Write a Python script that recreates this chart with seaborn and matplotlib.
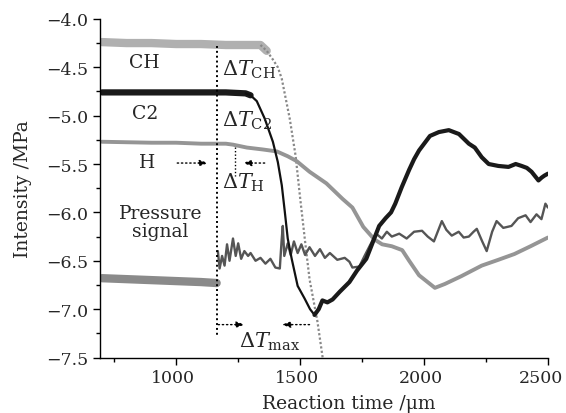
import numpy as np
import pandas as pd
import matplotlib
matplotlib.use("Agg")
import matplotlib.pyplot as plt
import matplotlib.transforms as mtransforms
from matplotlib.ticker import MultipleLocator
import seaborn as sns

# ---------------- data ----------------
ch_x = [700, 800, 900, 1000, 1100, 1200, 1300, 1340, 1365, 1390, 1410, 1426, 1458, 1482, 1500, 1520, 1538, 1570, 1592]
ch_y = [-4.24, -4.25, -4.25, -4.26, -4.26, -4.27, -4.27, -4.27, -4.33, -4.42, -4.50, -4.62, -5.03, -5.42, -5.85, -6.30, -6.69, -7.13, -7.52]

c2_x = [700, 800, 900, 1000, 1100, 1200, 1280, 1300, 1325, 1357, 1390, 1410, 1426, 1438, 1450, 1466, 1490, 1518, 1540, 1558,
        1575, 1590, 1610, 1631, 1660, 1699, 1730, 1767, 1790, 1819, 1845, 1867, 1884, 1910, 1940, 1960, 1980, 2024, 2060,
        2100, 2141, 2181, 2205, 2233, 2261, 2300, 2341, 2370, 2394, 2415, 2434, 2462, 2475, 2486, 2500]
c2_y = [-4.76, -4.76, -4.76, -4.76, -4.76, -4.76, -4.77, -4.79, -4.85, -5.03, -5.27, -5.48, -5.72, -5.99, -6.27, -6.48, -6.76, -6.89, -7.00, -7.06,
        -7.00, -6.91, -6.93, -6.90, -6.82, -6.72, -6.60, -6.48, -6.33, -6.14, -6.06, -6.0, -5.91, -5.74, -5.56, -5.45, -5.36, -5.21, -5.17,
        -5.15, -5.19, -5.29, -5.33, -5.43, -5.50, -5.52, -5.53, -5.50, -5.52, -5.54, -5.58, -5.67, -5.64, -5.62, -5.60]

h_x = [700, 800, 900, 1000, 1100, 1165, 1200, 1229, 1285, 1350, 1406, 1450, 1486, 1538, 1606, 1671, 1711, 1755, 1800, 1831,
       1870, 1912, 1940, 1980, 2044, 2084, 2150, 2233, 2300, 2365, 2430, 2500]
h_y = [-5.27, -5.275, -5.28, -5.28, -5.29, -5.29, -5.29, -5.30, -5.33, -5.35, -5.37, -5.42, -5.47, -5.58, -5.70, -5.86, -5.95, -6.15, -6.28, -6.33,
       -6.35, -6.39, -6.50, -6.65, -6.78, -6.74, -6.66, -6.55, -6.49, -6.43, -6.35, -6.26]

p_x = [700, 800, 900, 1000, 1100, 1163,
       1168, 1175, 1185, 1195, 1205, 1215, 1229, 1240, 1250, 1262, 1275, 1290, 1300, 1320, 1340, 1360, 1380, 1400, 1418,
       1425, 1430, 1436, 1450, 1462, 1475, 1490, 1505, 1520, 1538, 1560, 1580, 1600, 1620, 1650, 1680, 1699, 1711, 1739, 1760, 1780,
       1807, 1830, 1850, 1870, 1900, 1930, 1960, 1992, 2015, 2040, 2072, 2090, 2112, 2140, 2160, 2181, 2200, 2213, 2235,
       2253, 2275, 2293, 2320, 2353, 2380, 2410, 2430, 2454, 2474, 2490, 2500]
p_y = [-6.68, -6.69, -6.70, -6.71, -6.72, -6.73,
       -6.40, -6.58, -6.45, -6.55, -6.33, -6.50, -6.27, -6.45, -6.32, -6.48, -6.40, -6.45, -6.42, -6.50, -6.47, -6.53, -6.48, -6.57, -6.58,
       -6.30, -6.14, -6.45, -6.32, -6.44, -6.30, -6.42, -6.33, -6.44, -6.36, -6.45, -6.38, -6.47, -6.42, -6.49, -6.47, -6.51, -6.57, -6.56, -6.45, -6.35,
       -6.22, -6.27, -6.20, -6.25, -6.22, -6.27, -6.20, -6.19, -6.25, -6.30, -6.09, -6.18, -6.24, -6.20, -6.26, -6.25, -6.20, -6.17, -6.30,
       -6.40, -6.20, -6.09, -6.16, -6.14, -6.06, -6.03, -6.10, -6.02, -6.07, -5.91, -5.95]

x_ticks = [1000, 1500, 2000, 2500]
y_ticks = [-7.5, -7.0, -6.5, -6.0, -5.5, -5.0, -4.5, -4.0]

# ---------------- style ----------------
sns.set_style("ticks")
plt.rcParams["font.family"] = ["DejaVu Serif"]
plt.rcParams["mathtext.fontset"] = "dejavuserif"

fig = plt.figure(figsize=(5.66, 4.14), dpi=100)
ax = fig.add_axes([0.177, 0.134, 0.791, 0.818])

def seg(xs, ys, lo, hi):
    d = pd.DataFrame({"x": xs, "y": ys})
    return d[(d.x >= lo) & (d.x <= hi)]

def draw(d, **kw):
    sns.lineplot(data=d, x="x", y="y", ax=ax, sort=False, estimator=None, **kw)

# CH: thick textured band then thin dotted descent
draw(seg(ch_x, ch_y, 0, 1365), color="#b0b0b0", lw=6)
draw(seg(ch_x, ch_y, 1340, 3000), color="#888888", lw=1.6, ls=(0, (1, 1)))

# H
draw(seg(h_x, h_y, 0, 3000), color="#959595", lw=2.8)

# Pressure signal
draw(seg(p_x, p_y, 0, 1163), color="#8a8a8a", lw=6)
draw(seg(p_x, p_y, 1168, 3000), color="#555555", lw=1.7)

# C2
draw(seg(c2_x, c2_y, 0, 1300), color="#1a1a1a", lw=4.5)
draw(seg(c2_x, c2_y, 1280, 1558), color="#111111", lw=1.6)
draw(seg(c2_x, c2_y, 1558, 3000), color="#1a1a1a", lw=3.0)

# dotted guide lines
ax.plot([1165, 1165], [-4.28, -7.27], color="black", lw=1.4, ls=(0, (1, 1.5)))
ax.plot([1237, 1237], [-5.32, -5.62], color="black", lw=1.0, ls=(0, (1, 1.5)))

def arrow(x0, x1, y):
    ax.annotate("", xy=(x1, y), xytext=(x0, y),
                arrowprops=dict(arrowstyle="-|>,head_length=0.5,head_width=0.18", color="black",
                                lw=1.0, ls=(0, (1, 2)), shrinkA=0, shrinkB=0))

arrow(1004, 1129, -5.49)
arrow(1357, 1269, -5.49)
arrow(1169, 1277, -7.16)
arrow(1538, 1426, -7.16)

fs = 13.5
ax.text(871, -4.45, "CH", fontsize=fs, ha="center", va="center")
ax.text(875, -4.97, "C2", fontsize=fs, ha="center", va="center")
ax.text(882, -5.48, "H", fontsize=fs, ha="center", va="center")
ax.text(936, -6.10, "Pressure\nsignal", fontsize=fs, ha="center", va="center", linespacing=1.0)

mfs = 15
ax.text(1185, -4.52, r"$\Delta T_{\rm CH}$", fontsize=mfs, ha="left", va="center")
ax.text(1185, -5.04, r"$\Delta T_{\rm C2}$", fontsize=mfs, ha="left", va="center")
ax.text(1185, -5.68, r"$\Delta T_{\rm H}$", fontsize=mfs, ha="left", va="center")
ax.text(1255, -7.33, r"$\Delta T_{\rm max}$", fontsize=mfs, ha="left", va="center")

ax.set_xlim(693, 2500)
ax.set_ylim(-7.5, -4.0)
ax.set_xticks(x_ticks)
ax.set_yticks(y_ticks)
ax.set_yticklabels([f"{v:.1f}".replace("-", "\u2212") for v in y_ticks])
ax.xaxis.set_minor_locator(MultipleLocator(250))
ax.yaxis.set_minor_locator(MultipleLocator(0.25))
ax.tick_params(axis="both", which="major", direction="out", length=5, width=1, labelsize=12.5, color="black")
ax.tick_params(axis="both", which="minor", direction="out", length=3, width=1, color="black")
sns.despine(ax=ax)
for s in ("left", "bottom"):
    ax.spines[s].set_color("black")
    ax.spines[s].set_linewidth(1.0)

# x tick labels sit slightly left of their ticks in the reference
labels = ax.get_xticklabels()
for i, lab in enumerate(labels):
    dx = -0.035 if i < len(labels) - 1 else -0.065
    lab.set_transform(lab.get_transform() + mtransforms.ScaledTranslation(dx, 0, fig.dpi_scale_trans))

ax.set_xlabel("Reaction time /\u03bcm", fontsize=13.5)
ax.xaxis.set_label_coords(0.556, -0.108)
ax.set_ylabel("Intensity /MPa", fontsize=13.5, labelpad=10)

fig.savefig("out.png", dpi=100)
